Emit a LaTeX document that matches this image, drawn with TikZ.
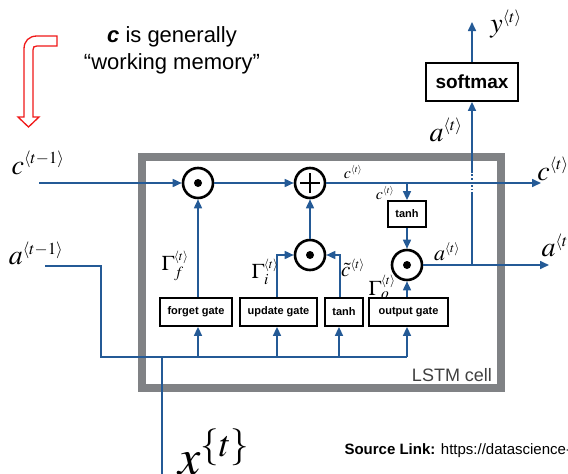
\documentclass[tikz,border=0pt]{standalone}
\usepackage{mathptmx}
\usepackage{fontspec}
\setmainfont{Liberation Sans}
\usetikzlibrary{arrows.meta}
\definecolor{wireblue}{HTML}{245A96}
\definecolor{cellgray}{HTML}{808285}
\definecolor{notered}{HTML}{F01818}
\newcommand{\tstep}[1]{^{\scriptscriptstyle\langle #1\rangle}}

\begin{document}
\begin{tikzpicture}[x=1pt,y=-1pt,
  wire/.style={wireblue,line width=1.6pt},
  flow/.style={wire,-{Triangle[length=9pt,width=8pt]}},
  op/.style={circle,draw,line width=2.6pt,minimum size=30pt,inner sep=0pt,fill=white},
  dotop/.style={op,path picture={\fill[black] (path picture bounding box.center) circle (4pt);}},
  plusop/.style={op,path picture={\draw[black,line width=1.6pt]
    ([xshift=-10pt]path picture bounding box.center) -- ([xshift=10pt]path picture bounding box.center)
    ([yshift=-10pt]path picture bounding box.center) -- ([yshift=10pt]path picture bounding box.center);}},
  gate/.style={draw,line width=1.8pt,fill=white,font=\fontsize{11}{13}\selectfont\bfseries,minimum height=28pt,inner sep=0pt},
  lbl/.style={font=\fontsize{28}{32}\selectfont},
  sublbl/.style={font=\fontsize{21}{24}\selectfont},
  smlbl/.style={font=\fontsize{16}{18}\selectfont}]
  \useasboundingbox (0,0) rectangle (568,474);
  \draw[cellgray,line width=8pt] (142,157) rectangle (501,388);
  \node[font=\fontsize{18}{21}\selectfont,text=black!75] (celllbl) at (452,375) {LSTM cell};

  \node[dotop] (fmul) at (198,183) {};
  \node[plusop] (add) at (310,183) {};
  \node[dotop] (imul) at (310,255) {};
  \node[dotop] (omul) at (407,265) {};
  \node[gate,minimum width=38pt,minimum height=26pt] (ctanh) at (407,214) {tanh};
  \node[gate,minimum width=72pt] (forget) at (196,312) {forget gate};
  \node[gate,minimum width=77pt] (update) at (278.5,312) {update gate};
  \node[gate,minimum width=38pt] (tanhg) at (344,312) {tanh};
  \node[gate,minimum width=79pt] (output) at (408.5,312) {output gate};
  \node[gate,minimum width=92pt,minimum height=38pt,font=\fontsize{19}{22}\selectfont\bfseries] (softmax) at (472,82) {softmax};

  \coordinate (cin) at (39,183);
  \coordinate (cout) at (541,183);
  \coordinate (ctap) at (407,183);
  \coordinate (aout) at (549,265);
  \coordinate (atap) at (472,265);
  \coordinate (xa) at (472,194);
  \coordinate (xb) at (472,173);
  \coordinate (yout) at (472,22);
  \coordinate (ain) at (45,266);
  \coordinate (abend) at (101,357);
  \coordinate (busend) at (407,357);
  \coordinate (xin) at (162,474);

  \draw[flow] (cin) -- (fmul);
  \draw[flow] (fmul) -- (add);
  \draw[flow] (add) -- (cout);
  \draw[flow] (ctap) -- (ctanh);
  \draw[flow] (ctanh) -- (omul);
  \draw[flow] (forget.north -| fmul) -- (fmul);
  \draw[flow] ([xshift=-1.5pt]update.north) |- (imul);
  \draw[flow] ([xshift=-4pt]tanhg.north) |- (imul);
  \draw[flow] (imul) -- (add);
  \draw[flow] (output.north -| omul) -- (omul);
  \draw[flow] (omul) -- (aout);
  \draw[wire] (atap) -- (xa);
  \draw[wire,dotted] (xa) -- (xb);
  \draw[flow] (xb) -- (softmax);
  \draw[flow] (softmax) -- (yout);
  \draw[wire] (ain) -| (abend) -- (busend);
  \draw[wire] (xin) -- (xin |- abend);
  \foreach \g/\s in {forget/2,update/-1.5,tanhg/-5,output/-1.5}
    \draw[flow] ([xshift=\s pt]\g.south |- abend) -- ([xshift=\s pt]\g.south);

  \node[lbl] (cprev) at (38,163) {$c\tstep{t-1}$};
  \node[lbl] (aprev) at (36,253) {$a\tstep{t-1}$};
  \node[lbl] (cnext) at (553,169) {$c\tstep{t}$};
  \node[lbl] (anext) at (558,245) {$a\tstep{t}$};
  \node[lbl] (ylbl) at (506,24) {$y\tstep{t}$};
  \node[lbl] (asoft) at (446,130) {$a\tstep{t}$};
  \node[font=\fontsize{50}{56}\selectfont] (xlbl) at (214,452) {$x^{\{t\}}$};
  \node[sublbl] (gf) at (175,266) {$\Gamma_f\tstep{t}$};
  \node[sublbl] (gi) at (265,272) {$\Gamma_i\tstep{t}$};
  \node[sublbl] (ctil) at (353,268) {$\tilde{c}\tstep{t}$};
  \node[sublbl] (go) at (382,287) {$\Gamma_o\tstep{t}$};
  \node[smlbl] (cup) at (353,172) {$c\tstep{t}$};
  \node[smlbl] (cdown) at (385,193) {$c\tstep{t}$};
  \node[font=\fontsize{22}{25}\selectfont] (aomul) at (447,252) {$a\tstep{t}$};

  \node[align=center,font=\fontsize{22}{27}\selectfont] (note) at (172,50) {\textbf{\textit{c}} is generally\\“working memory”};
  \draw[notered,line width=1.3pt,fill=white] (57,36) -- (37,36) .. controls (29,36) and (24,41) .. (24,49) -- (24,117) -- (18,117) -- (28.5,127) -- (39,117) -- (33,117) -- (33,50) .. controls (33,47) and (34,46) .. (37,46) -- (57,46) -- cycle;
  \node[anchor=west,font=\fontsize{15}{18}\selectfont] (src) at (341,451) {\textbf{Source Link:} https://datascience-};
\end{tikzpicture}
\end{document}
